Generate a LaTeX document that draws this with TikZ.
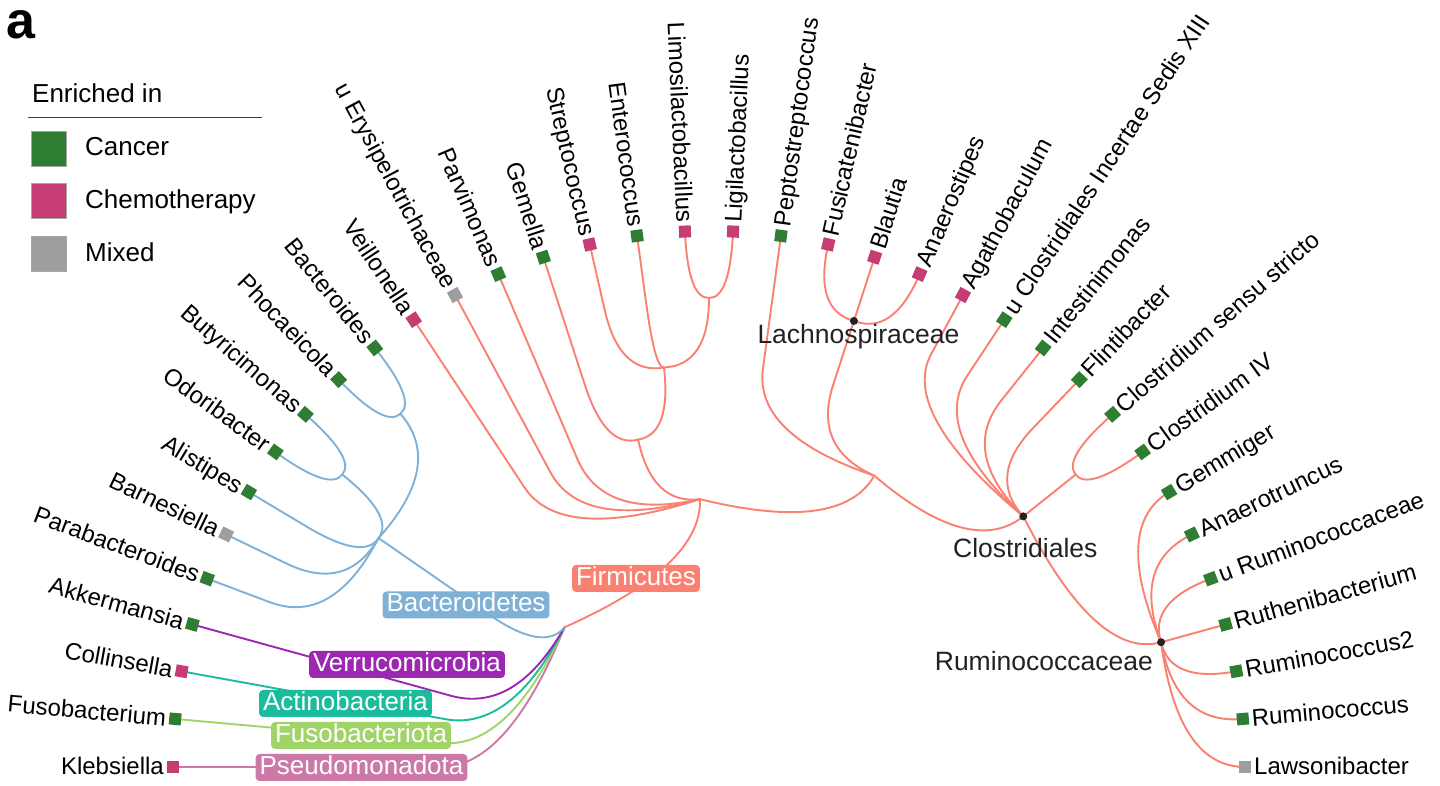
\documentclass[tikz,border=0pt]{standalone}
\usepackage{fontspec}
\setmainfont{Liberation Sans}
\usetikzlibrary{calc}

\definecolor{firm}{HTML}{FA8072}
\definecolor{bact}{HTML}{7FB1D6}
\definecolor{verr}{HTML}{9C27B0}
\definecolor{acti}{HTML}{1ABC9C}
\definecolor{fuso}{HTML}{A0D468}
\definecolor{pseu}{HTML}{CC79A7}
\definecolor{cancer}{HTML}{2E7D32}
\definecolor{chemo}{HTML}{C63C74}
\definecolor{mixed}{HTML}{9E9E9E}
\definecolor{dotc}{HTML}{222222}

% curved branch from parent #2 to child #3 (bend at the parent's radius)
\newcommand{\treelink}[3]{%
  \draw[branch,color=#1] let \p1=(#2), \n1={veclen(\x1,\y1)},
    \p3=($(0,0)!\n1!(#3)$) in
    (#2) .. controls ($(#2)!2/3!(\p3)$) and ($(#3)!2/3!(\p3)$) .. (#3);}

\begin{document}
\begin{tikzpicture}[x=1pt,y=1pt,
  declare function={slot(\k)=180-\k*36/7; ring(\d)=201+67*\d;},
  branch/.style={line width=1.9pt,line cap=round},
  leafsq/.style={rectangle,minimum size=12pt,inner sep=0pt},
  leaflab/.style={font=\fontsize{24}{28}\selectfont,inner sep=0pt,text height=17pt,text depth=1pt},
  clade/.style={font=\fontsize{26.5}{30}\selectfont,inner sep=0pt,text=dotc},
  legtxt/.style={font=\fontsize{26}{30}\selectfont,inner sep=0pt},
  legsq/.style={rectangle,minimum size=35pt,inner sep=0pt,draw=black!35,line width=0.8pt},
  phylum/.style={rounded corners=4pt,text=white,inner xsep=4pt,inner ysep=1.5pt,
    text height=19pt,text depth=5pt,font=\fontsize{26}{30}\selectfont}]
\useasboundingbox (-709,-19) rectangle (731,767);

% internal nodes of the tree
\foreach \nm/\s/\d in {root/8.5625/0, pPseu/0/1, pFuso/1/1, pActi/2/1, pVerr/3/1, pBact/6.75/1, pFirm/17.125/1,
  oBact/6.75/3, fTann/4/4, fBarn/5/4, fRike/6/4, fOdor/7.5/4, fBact/9.5/4,
  cNega/11/2, cErys/12/2, cTiss/13/2, cBaci/15.125/2, cClos/23.25/2,
  oBacl/14/3, oLact/16.25/3, fStre/15/4, fEnte/16/4, fLact/17.5/4,
  oPept/19/3, oLach/21/3, fLach/21/4, oClos/27.5/3,
  fAgat/23/4, fXiii/24/4, fInte/25/4, fFlin/26/4, fClos/27.5/4, fRumi/32/4}
  \coordinate (\nm) at ({slot(\s)}:{ring(\d)});

\foreach \pa/\ch/\col in {root/pPseu/pseu, root/pFuso/fuso, root/pActi/acti, root/pVerr/verr,
  root/pBact/bact, root/pFirm/firm,
  pBact/oBact/bact, oBact/fTann/bact, oBact/fBarn/bact, oBact/fRike/bact, oBact/fOdor/bact, oBact/fBact/bact,
  pFirm/cNega/firm, pFirm/cErys/firm, pFirm/cTiss/firm, pFirm/cBaci/firm, pFirm/cClos/firm,
  cBaci/oBacl/firm, cBaci/oLact/firm, oLact/fStre/firm, oLact/fEnte/firm, oLact/fLact/firm,
  cClos/oPept/firm, cClos/oLach/firm, cClos/oClos/firm, oLach/fLach/firm,
  oClos/fAgat/firm, oClos/fXiii/firm, oClos/fInte/firm, oClos/fFlin/firm, oClos/fClos/firm, oClos/fRumi/firm}
  \treelink{\col}{\pa}{\ch};

% leaves
\foreach \i/\up/\col/\grp/\txt in {
  0/pPseu/pseu/chemo/Klebsiella,
  1/pFuso/fuso/cancer/Fusobacterium,
  2/pActi/acti/chemo/Collinsella,
  3/pVerr/verr/cancer/Akkermansia,
  4/fTann/bact/cancer/Parabacteroides,
  5/fBarn/bact/mixed/Barnesiella,
  6/fRike/bact/cancer/Alistipes,
  7/fOdor/bact/cancer/Odoribacter,
  8/fOdor/bact/cancer/Butyricimonas,
  9/fBact/bact/cancer/Phocaeicola,
  10/fBact/bact/cancer/Bacteroides,
  11/cNega/firm/chemo/Veillonella,
  12/cErys/firm/mixed/u Erysipelotrichaceae,
  13/cTiss/firm/cancer/Parvimonas,
  14/oBacl/firm/cancer/Gemella,
  15/fStre/firm/chemo/Streptococcus,
  16/fEnte/firm/cancer/Enterococcus,
  17/fLact/firm/chemo/Limosilactobacillus,
  18/fLact/firm/chemo/Ligilactobacillus,
  19/oPept/firm/cancer/Peptostreptococcus,
  20/fLach/firm/chemo/Fusicatenibacter,
  21/fLach/firm/chemo/Blautia,
  22/fLach/firm/chemo/Anaerostipes,
  23/fAgat/firm/chemo/Agathobaculum,
  24/fXiii/firm/cancer/u Clostridiales Incertae Sedis XIII,
  25/fInte/firm/cancer/Intestinimonas,
  26/fFlin/firm/cancer/Flintibacter,
  27/fClos/firm/cancer/Clostridium sensu stricto,
  28/fClos/firm/cancer/Clostridium IV,
  29/fRumi/firm/cancer/Gemmiger,
  30/fRumi/firm/cancer/Anaerotruncus,
  31/fRumi/firm/cancer/u Ruminococcaceae,
  32/fRumi/firm/cancer/Ruthenibacterium,
  33/fRumi/firm/cancer/Ruminococcus2,
  34/fRumi/firm/cancer/Ruminococcus,
  35/fRumi/firm/mixed/Lawsonibacter}{
  \pgfmathsetmacro\tang{slot(\i)}
  \coordinate (L\i) at (\tang:{ring(5)});
  \treelink{\col}{\up}{L\i}
  \node[leafsq,fill=\grp,rotate=\tang] (M\i) at (L\i) {};
  \ifnum\i<18
    \node[leaflab,anchor=east,rotate=\tang-180] (T\i) at (\tang:{ring(5)+9}) {\txt};
  \else
    \node[leaflab,anchor=west,rotate=\tang] (T\i) at (\tang:{ring(5)+9}) {\txt};
  \fi
}

% labelled clades
\fill[dotc] (fLach) circle (4);
\fill[dotc] (oClos) circle (4);
\fill[dotc] (fRumi) circle (4);
\node[clade,anchor=base] (labLach) at ($(fLach)+(4.5,-23)$) {Lachnospiraceae};
\node[clade,anchor=base] (labClos) at ($(oClos)+(2,-41)$) {Clostridiales};
\node[clade,anchor=base east] (labRumi) at ($(fRumi)+(-8,-28)$) {Ruminococcaceae};

% legend and phylum tags, in page coordinates
\begin{scope}[shift={(-709,767)},y=-1pt]
  \node[font=\fontsize{52}{56}\selectfont\bfseries,anchor=base west,inner sep=0pt] (panel) at (6,38.5) {a};
  \node[legtxt,anchor=base west] (legtitle) at (32,103) {Enriched in};
  \draw[black!75,line width=1pt] (28,118) -- (262,118);
  \foreach \k/\grp/\txt in {0/cancer/Cancer, 1/chemo/Chemotherapy, 2/mixed/Mixed}{
    \node[legsq,fill=\grp] (sq\k) at (49,{148.5+52.75*\k}) {};
    \node[legtxt,anchor=base west] (lt\k) at (85,{156+53*\k}) {\txt};
  }
  \node[phylum,fill=firm] (labFirm) at (636,578.5) {Firmicutes};
  \node[phylum,fill=bact] (labBact) at (466,605) {Bacteroidetes};
  \node[phylum,fill=verr] (labVerr) at (407,664.5) {Verrucomicrobia};
  \node[phylum,fill=acti] (labActi) at (345.5,703.5) {Actinobacteria};
  \node[phylum,fill=fuso] (labFuso) at (361,735.5) {Fusobacteriota};
  \node[phylum,fill=pseu] (labPseu) at (361.5,767.5) {Pseudomonadota};
\end{scope}
\end{tikzpicture}
\end{document}
